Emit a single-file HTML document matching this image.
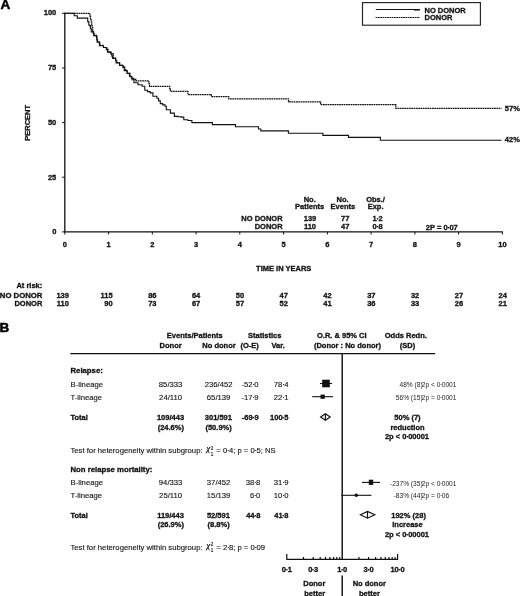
<!DOCTYPE html>
<html><head><meta charset="utf-8"><title>Figure</title>
<style>
html,body{margin:0;padding:0;background:#fff;}
body{width:520px;height:596px;overflow:hidden;font-family:"Liberation Sans",sans-serif;}
svg{display:block;will-change:transform;}
text{font-family:"Liberation Sans",sans-serif;fill:#111;}
.b{font-size:7.5px;font-weight:bold;stroke:#111;stroke-width:0.3px;}
.r{font-size:7.7px;font-weight:normal;fill:#111;stroke:#111;stroke-width:0.12px;}
.s{font-size:6.6px;font-weight:normal;fill:#222;}
.h{font-size:13.5px;font-weight:bold;fill:#000;stroke:#000;stroke-width:0.5px;}
.ln{stroke:#111;fill:none;}
</style></head><body>
<svg width="520" height="596" viewBox="0 0 520 596">
<rect x="0" y="0" width="520" height="596" fill="#fff"/>
<text x="0.6" y="9.4" class="h">A</text>
<path class="ln" stroke-width="1.3" d="M64.8,12.7 V231.9 H502.8"/>
<path class="ln" stroke-width="1" d="M62.1,231.9 H64.8"/>
<text x="56.3" y="234.2" class="b" text-anchor="end">0</text>
<path class="ln" stroke-width="1" d="M62.1,177.2 H64.8"/>
<text x="56.3" y="179.6" class="b" text-anchor="end">25</text>
<path class="ln" stroke-width="1" d="M62.1,122.6 H64.8"/>
<text x="56.3" y="124.9" class="b" text-anchor="end">50</text>
<path class="ln" stroke-width="1" d="M62.1,68.0 H64.8"/>
<text x="56.3" y="70.3" class="b" text-anchor="end">75</text>
<path class="ln" stroke-width="1" d="M62.1,13.3 H64.8"/>
<text x="56.3" y="15.2" class="b" text-anchor="end">100</text>
<path class="ln" stroke-width="1" d="M64.8,231.9 V234.5"/>
<text x="64.8" y="247.4" class="b" text-anchor="middle">0</text>
<path class="ln" stroke-width="1" d="M108.6,231.9 V234.5"/>
<text x="108.6" y="247.4" class="b" text-anchor="middle">1</text>
<path class="ln" stroke-width="1" d="M152.3,231.9 V234.5"/>
<text x="152.3" y="247.4" class="b" text-anchor="middle">2</text>
<path class="ln" stroke-width="1" d="M196.1,231.9 V234.5"/>
<text x="196.1" y="247.4" class="b" text-anchor="middle">3</text>
<path class="ln" stroke-width="1" d="M239.8,231.9 V234.5"/>
<text x="239.8" y="247.4" class="b" text-anchor="middle">4</text>
<path class="ln" stroke-width="1" d="M283.6,231.9 V234.5"/>
<text x="283.6" y="247.4" class="b" text-anchor="middle">5</text>
<path class="ln" stroke-width="1" d="M327.4,231.9 V234.5"/>
<text x="327.4" y="247.4" class="b" text-anchor="middle">6</text>
<path class="ln" stroke-width="1" d="M371.1,231.9 V234.5"/>
<text x="371.1" y="247.4" class="b" text-anchor="middle">7</text>
<path class="ln" stroke-width="1" d="M414.9,231.9 V234.5"/>
<text x="414.9" y="247.4" class="b" text-anchor="middle">8</text>
<path class="ln" stroke-width="1" d="M458.6,231.9 V234.5"/>
<text x="458.6" y="247.4" class="b" text-anchor="middle">9</text>
<path class="ln" stroke-width="1" d="M502.4,231.9 V234.5"/>
<text x="502.4" y="247.4" class="b" text-anchor="middle">10</text>
<text class="b" text-anchor="middle" transform="translate(30.3,122.8) rotate(-90)">PERCENT</text>
<text x="283.7" y="271" class="b" text-anchor="middle">TIME IN YEARS</text>
<path class="ln" stroke-width="1.1" stroke-linejoin="miter" d="M64.8,13.3 L71.2,13.3 L74.2,13.3 L74.2,15.8 L77.3,15.8 L77.3,18.1 L86.5,18.1 L87.7,18.1 L87.7,21.6 L88.8,21.6 L88.8,25.0 L89.6,25.0 L89.6,25.6 L90.4,25.6 L90.4,28.8 L91.3,28.8 L91.3,31.9 L93.7,31.9 L93.7,35.4 L96.5,35.4 L96.5,37.7 L96.8,37.7 L96.8,40.0 L97.1,40.0 L97.1,42.3 L99.4,42.3 L99.4,45.8 L103.5,45.8 L103.5,47.5 L106.3,47.5 L106.3,49.8 L107.5,49.8 L107.5,52.1 L111.0,52.1 L111.0,53.8 L111.8,53.8 L111.8,56.1 L112.7,56.1 L112.7,58.4 L115.6,58.4 L115.6,60.2 L116.1,60.2 L116.1,63.0 L119.6,63.0 L119.6,65.4 L123.0,65.4 L123.0,67.1 L124.2,67.1 L124.2,70.6 L127.1,70.6 L127.1,73.4 L129.4,73.4 L129.4,75.7 L130.0,75.7 L130.0,76.7 L132.0,76.7 L132.0,79.8 L134.0,79.8 L134.0,82.8 L138.0,82.8 L138.0,84.8 L142.1,84.8 L142.1,86.2 L144.8,86.2 L144.8,90.2 L147.5,90.2 L147.5,91.6 L150.2,91.6 L150.2,92.9 L152.9,92.9 L152.9,96.2 L156.9,96.2 L156.9,98.3 L158.6,98.3 L158.6,100.9 L160.3,100.9 L160.3,103.6 L162.7,103.6 L162.7,104.9 L165.0,104.9 L165.0,106.3 L166.3,106.3 L166.3,109.7 L170.4,109.7 L170.4,113.1 L174.4,113.1 L174.4,116.4 L177.8,116.4 L177.8,116.8 L181.1,116.8 L181.1,117.1 L183.8,117.1 L183.8,119.8 L187.9,119.8 L187.9,120.5 L191.9,120.5 L191.9,122.6 L212.4,122.6 L212.4,124.6 L235.5,124.6 L235.5,126.8 L256.5,126.8 L258.5,126.8 L258.5,129.0 L260.8,129.0 L260.8,130.9 L288.4,130.9 L288.4,133.3 L322.9,133.3 L322.9,135.4 L348.5,135.4 L348.5,137.4 L380.4,137.4 L380.4,140.3 L501.5,140.3"/>
<path class="ln" stroke-width="1.2" stroke-dasharray="1.75,0.55" d="M64.8,13.3 L89.2,13.3 L89.9,13.3 L89.9,16.2 L90.5,16.2 L90.5,19.0 L91.2,19.0 L91.2,21.9 L91.7,21.9 L91.7,24.8 L92.2,24.8 L92.2,27.7 L92.7,27.7 L92.7,30.6 L93.2,30.6 L93.2,33.5 L94.2,33.5 L94.2,35.8 L96.9,35.8 L96.9,37.4 L97.2,37.4 L97.2,39.7 L97.6,39.7 L97.6,42.0 L99.9,42.0 L99.9,45.4 L103.5,45.4 L103.5,47.5 L106.8,47.5 L106.8,49.4 L108.1,49.4 L108.1,51.8 L111.0,51.8 L111.0,53.8 L113.3,53.8 L113.3,58.0 L115.6,58.0 L115.6,60.2 L116.7,60.2 L116.7,62.6 L119.6,62.6 L119.6,65.4 L123.0,65.4 L123.0,67.1 L124.8,67.1 L124.8,70.2 L127.1,70.2 L127.1,73.4 L130.0,73.4 L130.0,76.3 L131.3,76.3 L131.3,78.1 L133.7,78.1 L133.7,79.4 L136.0,79.4 L136.0,80.8 L148.2,80.8 L148.8,80.8 L148.8,83.6 L149.5,83.6 L149.5,86.4 L169.0,86.4 L169.7,86.4 L169.7,88.8 L170.4,88.8 L170.4,91.3 L186.5,91.3 L187.9,91.3 L187.9,94.6 L211.3,94.6 L211.3,96.7 L228.7,96.7 L228.7,98.8 L288.5,98.8 L288.5,101.8 L320.7,101.8 L320.7,104.7 L395.8,104.7 L395.8,108.4 L501.5,108.4"/>
<text x="504.8" y="110.6" class="b">57%</text>
<text x="504.8" y="142.3" class="b">42%</text>
<rect x="362.5" y="2.6" width="117.9" height="22.6" fill="#fff" stroke="#222" stroke-width="1.15"/>
<path class="ln" stroke-width="1.1" d="M375.8,9.5 H419.8"/>
<path class="ln" stroke-width="1.5" d="M414,9.8 H419.8"/>
<path class="ln" stroke-width="1.2" stroke-dasharray="1.75,0.55" d="M375.6,17.5 H419.8"/>
<text x="424.5" y="12.7" class="b">NO DONOR</text>
<text x="424.5" y="20.4" class="b">DONOR</text>
<text x="309.7" y="201.5" class="b" text-anchor="middle">No.</text>
<text x="309.7" y="209.2" class="b" text-anchor="middle">Patients</text>
<text x="342.6" y="201.5" class="b" text-anchor="middle">No.</text>
<text x="342.9" y="209.2" class="b" text-anchor="middle">Events</text>
<text x="375.6" y="201.5" class="b" text-anchor="middle">Obs./</text>
<text x="375.6" y="209.2" class="b" text-anchor="middle">Exp.</text>
<text x="282.6" y="220.8" class="b" text-anchor="end">NO DONOR</text>
<text x="282.6" y="228.6" class="b" text-anchor="end">DONOR</text>
<text x="310" y="220.8" class="b" text-anchor="middle">139</text>
<text x="310" y="228.6" class="b" text-anchor="middle">110</text>
<text x="345.2" y="220.8" class="b" text-anchor="middle">77</text>
<text x="345.2" y="228.6" class="b" text-anchor="middle">47</text>
<text x="377.6" y="220.8" class="b" text-anchor="middle">1<tspan dx="-0.25" letter-spacing="-0.5">&#183;</tspan>2</text>
<text x="377.6" y="228.6" class="b" text-anchor="middle">0<tspan dx="-0.25" letter-spacing="-0.5">&#183;</tspan>8</text>
<text x="441.8" y="230.2" class="b" text-anchor="middle">2P = 0<tspan dx="-0.25" letter-spacing="-0.5">&#183;</tspan>07</text>
<text x="42.3" y="287.5" class="b" text-anchor="end">At risk:</text>
<text x="42.4" y="298.3" class="b" text-anchor="end" style="font-size:7.75px">NO DONOR</text>
<text x="42.3" y="305.6" class="b" text-anchor="end">DONOR</text>
<text x="68.9" y="298.3" class="b" text-anchor="end">139</text>
<text x="68.9" y="305.6" class="b" text-anchor="end">110</text>
<text x="112.7" y="298.3" class="b" text-anchor="end">115</text>
<text x="112.7" y="305.6" class="b" text-anchor="end">90</text>
<text x="156.5" y="298.3" class="b" text-anchor="end">86</text>
<text x="156.5" y="305.6" class="b" text-anchor="end">73</text>
<text x="200.3" y="298.3" class="b" text-anchor="end">64</text>
<text x="200.3" y="305.6" class="b" text-anchor="end">67</text>
<text x="244.1" y="298.3" class="b" text-anchor="end">50</text>
<text x="244.1" y="305.6" class="b" text-anchor="end">57</text>
<text x="287.9" y="298.3" class="b" text-anchor="end">47</text>
<text x="287.9" y="305.6" class="b" text-anchor="end">52</text>
<text x="331.7" y="298.3" class="b" text-anchor="end">42</text>
<text x="331.7" y="305.6" class="b" text-anchor="end">41</text>
<text x="375.5" y="298.3" class="b" text-anchor="end">37</text>
<text x="375.5" y="305.6" class="b" text-anchor="end">36</text>
<text x="419.3" y="298.3" class="b" text-anchor="end">32</text>
<text x="419.3" y="305.6" class="b" text-anchor="end">33</text>
<text x="463.1" y="298.3" class="b" text-anchor="end">27</text>
<text x="463.1" y="305.6" class="b" text-anchor="end">26</text>
<text x="506.9" y="298.3" class="b" text-anchor="end">24</text>
<text x="506.9" y="305.6" class="b" text-anchor="end">21</text>
<text x="-0.6" y="331.6" class="h">B</text>
<path class="ln" stroke-width="1.3" d="M70.3,353.6 H435.2"/>
<path class="ln" stroke-width="1.45" d="M342.2,353.6 V559.3"/>
<path class="ln" stroke-width="1.45" d="M342.2,575.6 V596"/>
<text x="194.8" y="338.1" class="b" text-anchor="middle">Events/Patients</text>
<text x="170.6" y="347.6" class="b" text-anchor="middle">Donor</text>
<text x="219" y="347.6" class="b" text-anchor="middle">No donor</text>
<text x="264.8" y="338.1" class="b" text-anchor="middle">Statistics</text>
<text x="249.6" y="347.6" class="b" text-anchor="middle">(O-E)</text>
<text x="278.2" y="347.6" class="b" text-anchor="middle">Var.</text>
<text x="341.8" y="338.1" class="b" text-anchor="middle">O.R. &amp; 95% CI</text>
<text x="347.5" y="347.6" class="b" text-anchor="middle">(Donor : No donor)</text>
<text x="405.8" y="338.1" class="b" text-anchor="middle">Odds Redn.</text>
<text x="407.5" y="347.6" class="b" text-anchor="middle">(SD)</text>
<text x="70.5" y="373.0" class="b" style="font-size:7.75px">Relapse:</text>
<text x="70.5" y="387.1" class="r">B-lineage</text>
<text x="170.6" y="387.1" class="r" text-anchor="middle">85/333</text>
<text x="218.6" y="387.1" class="r" text-anchor="middle">236/452</text>
<text x="258.6" y="387.1" class="r" text-anchor="end">-52<tspan dx="-0.25" letter-spacing="-0.5">&#183;</tspan>0</text>
<text x="288.5" y="387.1" class="r" text-anchor="end">78<tspan dx="-0.25" letter-spacing="-0.5">&#183;</tspan>4</text>
<text x="70.5" y="399.9" class="r">T-lineage</text>
<text x="170.6" y="399.9" class="r" text-anchor="middle">24/110</text>
<text x="218.6" y="399.9" class="r" text-anchor="middle">65/139</text>
<text x="258.6" y="399.9" class="r" text-anchor="end">-17<tspan dx="-0.25" letter-spacing="-0.5">&#183;</tspan>9</text>
<text x="288.5" y="399.9" class="r" text-anchor="end">22<tspan dx="-0.25" letter-spacing="-0.5">&#183;</tspan>1</text>
<text x="70.5" y="419.6" class="b">Total</text>
<text x="170.5" y="419.6" class="b" text-anchor="middle">109/443</text>
<text x="218.4" y="419.6" class="b" text-anchor="middle">301/591</text>
<text x="258.6" y="419.6" class="b" text-anchor="end">-69<tspan dx="-0.25" letter-spacing="-0.5">&#183;</tspan>9</text>
<text x="288.5" y="419.6" class="b" text-anchor="end">100<tspan dx="-0.25" letter-spacing="-0.5">&#183;</tspan>5</text>
<text x="170.8" y="429.9" class="b" text-anchor="middle">(24.6%)</text>
<text x="218.6" y="429.9" class="b" text-anchor="middle">(50.9%)</text>
<text x="70.5" y="453.3" class="r">Test for heterogeneity within subgroup: <tspan dx="1.9" dy="-2.0" font-family="Liberation Serif" font-style="italic" font-size="8.4px" stroke-width="0.25">&#967;</tspan><tspan font-size="4.6px" dy="-1.8" dx="0.5">2</tspan><tspan font-size="4.6px" dy="6.4" dx="-2.5">1</tspan><tspan dy="-2.6" dx="0.8" font-size="7.65px"> </tspan><tspan font-size="7.65px">= 0<tspan dx="-0.25" letter-spacing="-0.5">&#183;</tspan>4; p = 0<tspan dx="-0.25" letter-spacing="-0.5">&#183;</tspan>5; NS</tspan></text>
<text x="407.5" y="419.6" class="b" text-anchor="middle">50% (7)</text>
<text x="407.5" y="430.0" class="b" text-anchor="middle">reduction</text>
<text x="407" y="438.9" class="b" text-anchor="middle">2p &lt; 0<tspan dx="-0.25" letter-spacing="-0.5">&#183;</tspan>00001</text>
<text x="422.6" y="387.3" class="s" text-anchor="end">48% (8)</text>
<text x="421.8" y="387.3" class="s">2p &lt; 0<tspan dx="-0.25" letter-spacing="-0.5">&#183;</tspan>0001</text>
<text x="422.6" y="400.1" class="s" text-anchor="end">56% (15)</text>
<text x="421.8" y="400.1" class="s">2p = 0<tspan dx="-0.25" letter-spacing="-0.5">&#183;</tspan>0001</text>
<path class="ln" stroke-width="1.1" d="M320.1,383.5 H332"/>
<rect x="322.2" y="379.7" width="7.6" height="7.6" fill="#111"/>
<path class="ln" stroke-width="1.1" d="M312.2,396.7 H333"/>
<rect x="320.5" y="394.6" width="4.3" height="4.2" fill="#111"/>
<path d="M320.6,417 L325.4,413.7 L330.2,417 L325.4,420.3 Z M325.4,413.7 V420.3" fill="#fff" stroke="#111" stroke-width="1.15"/>
<text x="70.5" y="472.2" class="b" style="font-size:7.75px">Non relapse mortality:</text>
<text x="70.5" y="485.3" class="r">B-lineage</text>
<text x="170.6" y="485.3" class="r" text-anchor="middle">94/333</text>
<text x="218.6" y="485.3" class="r" text-anchor="middle">37/452</text>
<text x="260.4" y="485.3" class="r" text-anchor="end">38<tspan dx="-0.25" letter-spacing="-0.5">&#183;</tspan>8</text>
<text x="288.5" y="485.3" class="r" text-anchor="end">31<tspan dx="-0.25" letter-spacing="-0.5">&#183;</tspan>9</text>
<text x="70.5" y="498.2" class="r">T-lineage</text>
<text x="170.6" y="498.2" class="r" text-anchor="middle">25/110</text>
<text x="218.6" y="498.2" class="r" text-anchor="middle">15/139</text>
<text x="260.4" y="498.2" class="r" text-anchor="end">6<tspan dx="-0.25" letter-spacing="-0.5">&#183;</tspan>0</text>
<text x="288.5" y="498.2" class="r" text-anchor="end">10<tspan dx="-0.25" letter-spacing="-0.5">&#183;</tspan>0</text>
<text x="70.5" y="517.5" class="b">Total</text>
<text x="170.5" y="517.5" class="b" text-anchor="middle">119/443</text>
<text x="218.4" y="517.5" class="b" text-anchor="middle">52/591</text>
<text x="260.4" y="517.5" class="b" text-anchor="end">44<tspan dx="-0.25" letter-spacing="-0.5">&#183;</tspan>8</text>
<text x="288.5" y="517.5" class="b" text-anchor="end">41<tspan dx="-0.25" letter-spacing="-0.5">&#183;</tspan>8</text>
<text x="170.8" y="527.3" class="b" text-anchor="middle">(26.9%)</text>
<text x="218.6" y="527.3" class="b" text-anchor="middle">(8.8%)</text>
<text x="70.5" y="549.5" class="r">Test for heterogeneity within subgroup: <tspan dx="1.9" dy="-2.0" font-family="Liberation Serif" font-style="italic" font-size="8.4px" stroke-width="0.25">&#967;</tspan><tspan font-size="4.6px" dy="-1.8" dx="0.5">2</tspan><tspan font-size="4.6px" dy="6.4" dx="-2.5">1</tspan><tspan dy="-2.6" dx="0.8" font-size="7.65px"> </tspan><tspan font-size="7.65px">= 2<tspan dx="-0.25" letter-spacing="-0.5">&#183;</tspan>8; p = 0<tspan dx="-0.25" letter-spacing="-0.5">&#183;</tspan>09</tspan></text>
<text x="408.6" y="517.5" class="b" text-anchor="middle">192% (28)</text>
<text x="407.5" y="527.4" class="b" text-anchor="middle">increase</text>
<text x="407" y="536.9" class="b" text-anchor="middle">2p &lt; 0<tspan dx="-0.25" letter-spacing="-0.5">&#183;</tspan>00001</text>
<text x="422.6" y="485.5" class="s" text-anchor="end">-237% (35)</text>
<text x="421.8" y="485.5" class="s">2p &lt; 0<tspan dx="-0.25" letter-spacing="-0.5">&#183;</tspan>0001</text>
<text x="422.6" y="498.4" class="s" text-anchor="end">-83% (44)</text>
<text x="421.8" y="498.4" class="s">2p = 0<tspan dx="-0.25" letter-spacing="-0.5">&#183;</tspan>06</text>
<path class="ln" stroke-width="1.1" d="M362,482.4 H380"/>
<rect x="368.8" y="479.7" width="4.4" height="5.2" fill="#111"/>
<path class="ln" stroke-width="1.1" d="M341.4,495.3 H371.4"/>
<circle cx="356.3" cy="495.3" r="1.75" fill="#111"/>
<path d="M360.4,514.8 L367.5,511.4 L374.8,514.8 L367.5,518.2 Z M367.5,511.4 V518.2" fill="#fff" stroke="#111" stroke-width="1.15"/>
<path class="ln" stroke-width="1.2" d="M286.8,554 V559.3 H397.6 V554"/>
<path class="ln" stroke-width="1.2" d="M303.5,556.9 V559.3"/>
<path class="ln" stroke-width="1.2" d="M313.2,556.9 V559.3"/>
<path class="ln" stroke-width="1.2" d="M320.2,556.9 V559.3"/>
<path class="ln" stroke-width="1.2" d="M325.5,556.9 V559.3"/>
<path class="ln" stroke-width="1.2" d="M329.9,556.9 V559.3"/>
<path class="ln" stroke-width="1.2" d="M333.6,556.9 V559.3"/>
<path class="ln" stroke-width="1.2" d="M336.8,556.9 V559.3"/>
<path class="ln" stroke-width="1.2" d="M339.7,556.9 V559.3"/>
<path class="ln" stroke-width="1.2" d="M358.9,556.9 V559.3"/>
<path class="ln" stroke-width="1.2" d="M368.6,556.9 V559.3"/>
<path class="ln" stroke-width="1.2" d="M375.6,556.9 V559.3"/>
<path class="ln" stroke-width="1.2" d="M380.9,556.9 V559.3"/>
<path class="ln" stroke-width="1.2" d="M385.3,556.9 V559.3"/>
<path class="ln" stroke-width="1.2" d="M389.0,556.9 V559.3"/>
<path class="ln" stroke-width="1.2" d="M392.2,556.9 V559.3"/>
<path class="ln" stroke-width="1.2" d="M395.1,556.9 V559.3"/>
<text x="286.8" y="572.4" class="b" text-anchor="middle">0<tspan dx="-0.25" letter-spacing="-0.5">&#183;</tspan>1</text>
<text x="313.2" y="572.4" class="b" text-anchor="middle">0<tspan dx="-0.25" letter-spacing="-0.5">&#183;</tspan>3</text>
<text x="342.2" y="572.4" class="b" text-anchor="middle">1<tspan dx="-0.25" letter-spacing="-0.5">&#183;</tspan>0</text>
<text x="368.6" y="572.4" class="b" text-anchor="middle">3<tspan dx="-0.25" letter-spacing="-0.5">&#183;</tspan>0</text>
<text x="397.6" y="572.4" class="b" text-anchor="middle">10<tspan dx="-0.25" letter-spacing="-0.5">&#183;</tspan>0</text>
<text x="314.3" y="585.9" class="b" text-anchor="middle">Donor</text>
<text x="314.7" y="595.6" class="b" text-anchor="middle">better</text>
<text x="369.3" y="585.9" class="b" text-anchor="middle">No donor</text>
<text x="369.4" y="595.6" class="b" text-anchor="middle">better</text>
</svg></body></html>
